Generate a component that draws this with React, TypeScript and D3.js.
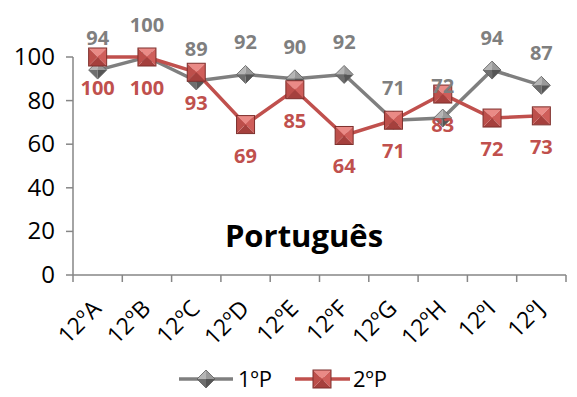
import React from "react";
import * as d3 from "d3";

const categories = ["12ºA", "12ºB", "12ºC", "12ºD", "12ºE", "12ºF", "12ºG", "12ºH", "12ºI", "12ºJ"];
const p1Values = [94, 100, 89, 92, 90, 92, 71, 72, 94, 87];
const p2Values = [100, 100, 93, 69, 85, 64, 71, 83, 72, 73];
const yTicks = [0, 20, 40, 60, 80, 100];
const seriesNames = ["1ºP", "2ºP"];

const W = 577;
const H = 397;
const left = 73;
const right = 566;
const top = 57;
const bottom = 275;

const GRAY = "#7f7f7f";
const RED = "#c0504d";
const AXIS = "#868686";
const FONT = "'Open Sans', sans-serif";

// gray diamond with a faceted look
const Diamond = ({ x, y, r = 9 }: { x: number; y: number; r?: number }) => (
  <g transform={`translate(${x},${y})`}>
    <path d={`M0,${-r}L${-r},0L0,0Z`} fill="#b5b5b5" />
    <path d={`M0,${-r}L${r},0L0,0Z`} fill="#9a9a9a" />
    <path d={`M${-r},0L0,${r}L0,0Z`} fill="#6e6e6e" />
    <path d={`M${r},0L0,${r}L0,0Z`} fill="#555" />
    <path d={`M0,${-r}L${r},0L0,${r}L${-r},0Z`} fill="none" stroke="#5a5a5a" strokeWidth={0.8} />
  </g>
);

// red square with bevelled facets
const Square = ({ x, y, s = 9 }: { x: number; y: number; s?: number }) => (
  <g transform={`translate(${x},${y})`}>
    <path d={`M${-s},${-s}L${s},${-s}L0,0Z`} fill="#ea8a86" />
    <path d={`M${s},${-s}L${s},${s}L0,0Z`} fill="#cf5e5a" />
    <path d={`M${-s},${s}L${s},${s}L0,0Z`} fill="#a5403d" />
    <path d={`M${-s},${-s}L${-s},${s}L0,0Z`} fill="#bd4f4b" />
    <rect x={-s} y={-s} width={2 * s} height={2 * s} fill="none" stroke="#7d2f2c" strokeWidth={1} />
  </g>
);

export default function App() {
  const x = d3.scaleBand<string>().domain(categories).range([left, right]);
  const y = d3.scaleLinear().domain([0, 100]).range([bottom, top]);
  const cx = (c: string) => (x(c) as number) + x.bandwidth() / 2;

  const line = d3
    .line<number>()
    .x((_, i) => cx(categories[i]))
    .y((d) => y(d));

  const edges = [...categories.map((c) => x(c) as number), right];

  return (
    <svg width={W} height={H} style={{ position: "absolute", left: 0, top: 0, background: "#fff" }}>
      {/* y axis */}
      <line x1={left} x2={left} y1={top} y2={bottom} stroke={AXIS} strokeWidth={1.5} />
      {yTicks.map((t) => (
        <g key={t}>
          <line x1={left - 7} x2={left} y1={y(t)} y2={y(t)} stroke={AXIS} strokeWidth={1.5} />
          <text x={55} y={y(t) + 8} textAnchor="end" fontFamily={FONT} fontSize={24} fill="#000">
            {t}
          </text>
        </g>
      ))}
      {/* x axis */}
      <line x1={left} x2={right} y1={bottom} y2={bottom} stroke={AXIS} strokeWidth={1.5} />
      {edges.map((e, i) => (
        <line key={i} x1={e} x2={e} y1={bottom} y2={bottom + 7} stroke={AXIS} strokeWidth={1.5} />
      ))}
      {categories.map((c) => (
        <text
          key={c}
          transform={`translate(${cx(c) + 5},${bottom + 35}) rotate(-45)`}
          textAnchor="end"
          fontFamily={FONT}
          fontSize={23}
          fill="#000"
        >
          {c}
        </text>
      ))}

      {/* title */}
      <text x={304} y={247} textAnchor="middle" fontFamily={FONT} fontWeight="bold" fontSize={31} fill="#000">
        Português
      </text>

      {/* series */}
      <path d={line(p1Values) || ""} fill="none" stroke={GRAY} strokeWidth={3.5} />
      {p1Values.map((v, i) => (
        <Diamond key={i} x={cx(categories[i])} y={y(v)} />
      ))}
      <path d={line(p2Values) || ""} fill="none" stroke={RED} strokeWidth={3.5} />
      {p2Values.map((v, i) => (
        <Square key={i} x={cx(categories[i])} y={y(v)} />
      ))}

      {/* data labels */}
      {p1Values.map((v, i) => (
        <text
          key={i}
          x={cx(categories[i])}
          y={y(v) - 25}
          textAnchor="middle"
          fontFamily={FONT}
          fontWeight="bold"
          fontSize={20}
          fill={GRAY}
        >
          {v}
        </text>
      ))}
      {p2Values.map((v, i) => (
        <text
          key={i}
          x={cx(categories[i])}
          y={y(v) + 38}
          textAnchor="middle"
          fontFamily={FONT}
          fontWeight="bold"
          fontSize={20}
          fill={RED}
        >
          {v}
        </text>
      ))}

      {/* legend */}
      <line x1={179} x2={233} y1={379} y2={379} stroke={GRAY} strokeWidth={3.5} />
      <Diamond x={206} y={379} />
      <text x={238} y={387} fontFamily={FONT} fontSize={22} fill="#000">
        {seriesNames[0]}
      </text>
      <line x1={295} x2={350} y1={379} y2={379} stroke={RED} strokeWidth={3.5} />
      <Square x={322} y={379} />
      <text x={353} y={387} fontFamily={FONT} fontSize={22} fill="#000">
        {seriesNames[1]}
      </text>
    </svg>
  );
}
